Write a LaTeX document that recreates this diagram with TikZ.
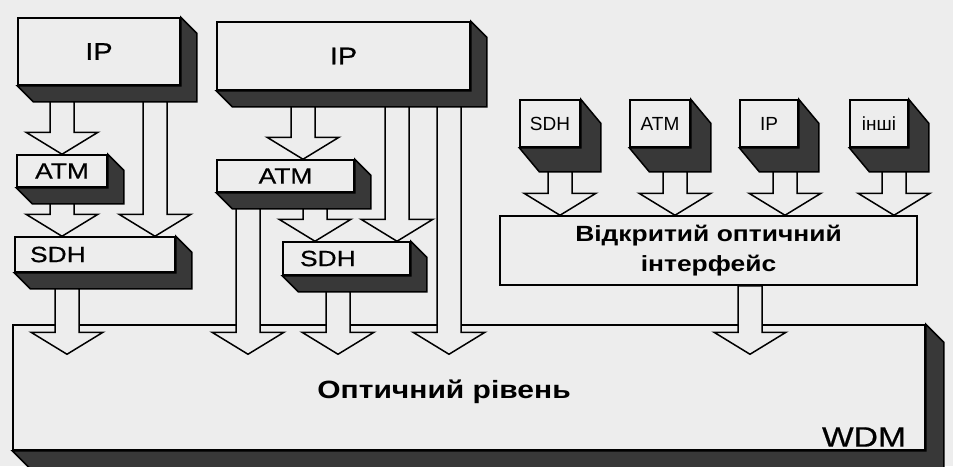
\documentclass[tikz,border=0pt]{standalone}
\usepackage{fontspec}
\setmainfont{Liberation Sans}
\newfontfamily\wide[FakeStretch=1.2]{Liberation Sans}
\newfontfamily\widemed[FakeStretch=1.2,FakeBold=0.6]{Liberation Sans}
\usetikzlibrary{calc}
\definecolor{paper}{gray}{0.93}

\newcommand\boxside[3]{%
  \filldraw[side] (#1.north east) -- ++(#2,#3) -- ($(#1.south east)+(#2,#3)$)
    -- ($(#1.south west)+(#2,#3)$) -- (#1.south west) -- (#1.south east) -- cycle;
  \coordinate (#1-b) at ($(#1.south)+(0,#3)$);
}
\newcommand\blockarrow[3]{%
  \draw[hollow] let \p1=(#1), \p2=(#2) in
    (#3pt-12pt,\y1) -- (#3pt-12pt,\y2+22pt) -- (#3pt-36pt,\y2+22pt) -- (#3pt,\y2)
    -- (#3pt+36pt,\y2+22pt) -- (#3pt+12pt,\y2+22pt) -- (#3pt+12pt,\y1) -- cycle;
}

\begin{document}
\begin{tikzpicture}[x=1pt, y=-1pt,
  face/.style={draw, fill=paper, line width=1.5pt, inner sep=0pt},
  side/.style={fill=black!78, draw=black, line width=1.5pt},
  hollow/.style={draw, fill=paper, line width=1.5pt, line join=miter},
  big/.style={font=\widemed\fontsize{22}{26}\selectfont},
  small/.style={font=\fontsize{19}{22}\selectfont},
  lft/.style={align=left, text width=#1}
]
\fill[paper, use as bounding box] (0,0) rectangle (953,466);

\node[face, minimum width=912, minimum height=125] (wdm) at (469,387.5) {};
\boxside{wdm}{18}{18}
\coordinate (wdmIn) at ($(wdm.north)+(0,30)$);
\node[font=\wide\bfseries\fontsize{25}{30}\selectfont] (opt) at (444,392) {Оптичний рівень};
\node[font=\widemed\fontsize{28}{32}\selectfont] (wdmlab) at (864,437) {WDM};

\node[face, minimum width=162, minimum height=67] (ipL) at (99,51.5) {};
\node[face, minimum width=90, minimum height=32] (atmL) at (62,171) {};
\node[face, minimum width=160, minimum height=35] (sdhL) at (95,254.5) {};
\node[face, minimum width=253, minimum height=68] (ipR) at (343.5,56) {};
\node[face, minimum width=137, minimum height=32] (atmR) at (285.5,176) {};
\node[face, minimum width=127, minimum height=33] (sdhR) at (346.5,258.5) {};
\node[face, minimum width=60, minimum height=47] (sdhS) at (550,123.5) {};
\node[face, minimum width=60, minimum height=47] (atmS) at (660,123.5) {};
\node[face, minimum width=58, minimum height=47] (ipS) at (769,123.5) {};
\node[face, minimum width=58, minimum height=47] (inshS) at (879,123.5) {};
\node[face, minimum width=417, minimum height=69, align=center,
  font=\wide\bfseries\fontsize{22}{30}\selectfont] (intf) at (708.5,250.5)
  {Відкритий оптичний\\інтерфейс};

\foreach \n in {ipL,atmL,sdhL,ipR,atmR,sdhR} {\boxside{\n}{16}{16}}
\foreach \n in {sdhS,atmS,ipS,inshS} {\boxside{\n}{20}{24}}

\blockarrow{ipL-b}{atmL.north}{62}
\blockarrow{ipL-b}{sdhL.north}{155}
\blockarrow{atmL-b}{sdhL.north}{62}
\blockarrow{sdhL-b}{wdmIn}{67}
\blockarrow{ipR-b}{atmR.north}{303}
\blockarrow{ipR-b}{sdhR.north}{397}
\blockarrow{ipR-b}{wdmIn}{449}
\blockarrow{atmR-b}{wdmIn}{248}
\blockarrow{atmR-b}{sdhR.north}{315}
\blockarrow{sdhR-b}{wdmIn}{338}
\blockarrow{sdhS-b}{intf.north}{560}
\blockarrow{atmS-b}{intf.north}{675}
\blockarrow{ipS-b}{intf.north}{785}
\blockarrow{inshS-b}{intf.north}{894}
\blockarrow{intf.south}{wdmIn}{750}

\node[big, font=\widemed\fontsize{24}{28}\selectfont] at (ipL) {IP};
\node[big] at (atmL) {ATM};
\node[big, lft=130pt] at (sdhL) {SDH};
\node[big, font=\widemed\fontsize{24}{28}\selectfont] at (ipR) {IP};
\node[big] at (atmR) {ATM};
\node[big, lft=93pt] at (sdhR) {SDH};
\node[small] at (sdhS) {SDH};
\node[small] at (atmS) {ATM};
\node[small] at (ipS) {IP};
\node[small] at (inshS) {інші};
\end{tikzpicture}
\end{document}
